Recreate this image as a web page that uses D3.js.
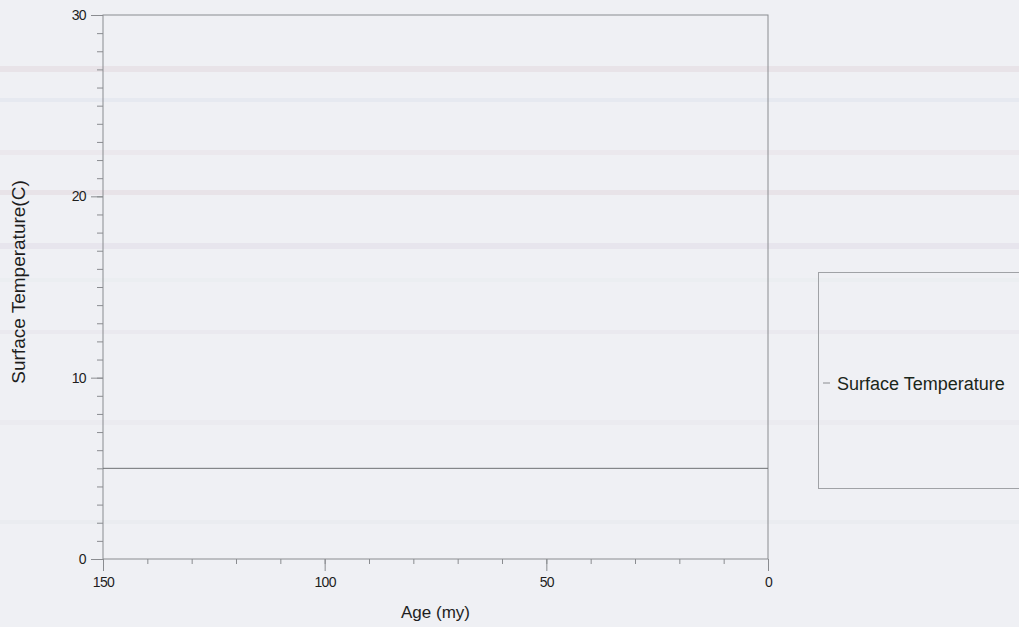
<!DOCTYPE html>
<html>
<head>
<meta charset="utf-8">
<script src="https://cdn.jsdelivr.net/npm/d3@7"></script>
<style>
  html, body { margin: 0; padding: 0; background: #eff0f4; }
  svg { display: block; }
</style>
</head>
<body>
<svg id="chart" width="1019" height="627"></svg>
<script>
// Surface temperature through time (age in million years)
const ages = [150, 0];
const surfaceTemp = [5, 5];
const seriesName = "Surface Temperature";
const xMajorTicks = [150, 100, 50, 0];
const yMajorTicks = [0, 10, 20, 30];

const W = 1019, H = 627;
const margin = { left: 103, right: 251, top: 15, bottom: 68 };
const svg = d3.select("#chart");

// paper tone with faint horizontal banding
svg.append("rect").attr("width", W).attr("height", H).attr("fill", "#eff0f4");
const bands = [
  { y: 66, h: 6, c: "#e6dde2" }, { y: 98, h: 4, c: "#e2e6ee" },
  { y: 150, h: 5, c: "#e9e4ea" }, { y: 190, h: 5, c: "#e6dde2" },
  { y: 243, h: 6, c: "#e4e0ea" }, { y: 278, h: 4, c: "#e9ecef" },
  { y: 330, h: 4, c: "#e8e6ec" }, { y: 420, h: 5, c: "#e9e8ee" },
  { y: 520, h: 4, c: "#e8e9ee" }
];
svg.selectAll("rect.band").data(bands).join("rect")
  .attr("class", "band").attr("x", 0).attr("width", W)
  .attr("y", d => d.y).attr("height", d => d.h)
  .attr("fill", d => d.c).attr("opacity", 0.7);

const x = d3.scaleLinear().domain([150, 0]).range([margin.left, W - margin.right]);
const y = d3.scaleLinear().domain([0, 30]).range([H - margin.bottom, margin.top]);

const axisColor = "#8a8c90";
const textColor = "#1e1e1e";
const font = "Liberation Sans, Arial, sans-serif";

// plot frame
svg.append("rect")
  .attr("x", x(150)).attr("y", y(30))
  .attr("width", x(0) - x(150)).attr("height", y(0) - y(30))
  .attr("fill", "none").attr("stroke", axisColor).attr("stroke-width", 1);

// x axis: minor ticks every 10, major every 50
const xAxisMinor = d3.axisBottom(x).tickValues(d3.range(0, 151, 10)).tickSize(5).tickFormat("");
const xAxisMajor = d3.axisBottom(x).tickValues(xMajorTicks).tickSize(12).tickPadding(6);
[xAxisMinor, xAxisMajor].forEach(ax => {
  const g = svg.append("g").attr("transform", `translate(0,${y(0)})`).call(ax);
  g.select(".domain").remove();
  g.selectAll("line").attr("stroke", axisColor);
  g.selectAll("text").attr("fill", textColor).attr("font-family", font)
    .attr("font-size", 14).attr("letter-spacing", -0.6);
});

// y axis: minor ticks every 1, major every 10
const yAxisMinor = d3.axisLeft(y).tickValues(d3.range(0, 31, 1)).tickSize(6).tickFormat("");
const yAxisMajor = d3.axisLeft(y).tickValues(yMajorTicks).tickSize(12).tickPadding(5);
[yAxisMinor, yAxisMajor].forEach(ax => {
  const g = svg.append("g").attr("transform", `translate(${x(150)},0)`).call(ax);
  g.select(".domain").remove();
  g.selectAll("line").attr("stroke", axisColor);
  g.selectAll("text").attr("fill", textColor).attr("font-family", font)
    .attr("font-size", 14).attr("letter-spacing", -0.6);
});

// axis titles
svg.append("text")
  .attr("x", (x(150) + x(0)) / 2).attr("y", 618)
  .attr("text-anchor", "middle").attr("fill", textColor)
  .attr("font-family", font).attr("font-size", 17)
  .text("Age (my)");
svg.append("text")
  .attr("transform", `translate(25,${(y(0) + y(30)) / 2 - 5}) rotate(-90)`)
  .attr("text-anchor", "middle").attr("fill", textColor)
  .attr("font-family", font).attr("font-size", 19)
  .text("Surface Temperature(C)");

// series line
const data = ages.map((a, i) => ({ age: a, t: surfaceTemp[i] }));
svg.append("path")
  .datum(data)
  .attr("fill", "none").attr("stroke", "#6e7074").attr("stroke-width", 1)
  .attr("d", d3.line().x(d => x(d.age)).y(d => y(d.t)));

// legend
const lg = svg.append("g").attr("transform", "translate(818,272)");
lg.append("rect").attr("x", 0.5).attr("y", 0.5).attr("width", 220).attr("height", 216)
  .attr("fill", "none").attr("stroke", "#a0a2a6").attr("stroke-width", 1);
lg.append("line").attr("x1", 5).attr("x2", 12).attr("y1", 111).attr("y2", 111)
  .attr("stroke", "#8a8c90").attr("stroke-width", 1);
lg.append("text").attr("x", 19).attr("y", 118)
  .attr("fill", "#1a261a").attr("font-family", font).attr("font-size", 18)
  .text(seriesName);
</script>
</body>
</html>
